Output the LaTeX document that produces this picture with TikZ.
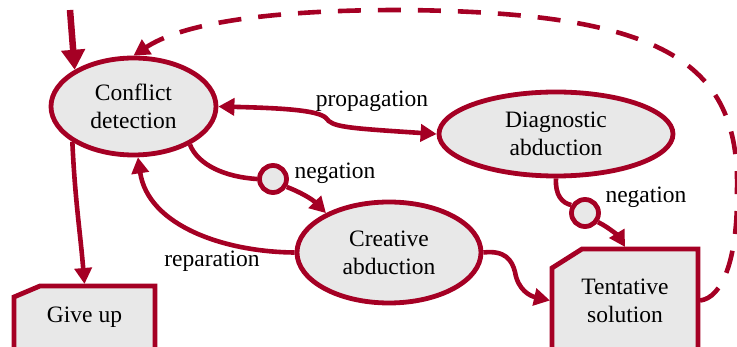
\documentclass[tikz,border=0pt]{standalone}
\usepackage{fontspec}
\setmainfont{Liberation Serif}
\usetikzlibrary{shapes.geometric,arrows.meta}
\definecolor{dred}{RGB}{165,0,36}
\definecolor{nfill}{RGB}{232,232,232}
\newcommand{\dfont}{\fontsize{23.5}{28}\selectfont}
\pgfdeclarelayer{bg}
\pgfsetlayers{bg,main}
\tikzset{
  enode/.style={ellipse, draw=dred, fill=nfill, line width=4.8pt, inner sep=0pt, align=center, font=\dfont},
  bnode/.style={rectangle, inner sep=0pt, outer sep=0pt, align=center, font=\dfont},
  boxline/.style={draw=dred, fill=nfill, line width=4.8pt, line join=miter},
  cnode/.style={circle, draw=dred, fill=nfill, line width=4.8pt, minimum size=27pt, inner sep=0pt},
  conn/.style={draw=dred, line width=4.6pt, -{Triangle[length=16pt,width=17pt]}},
  plainconn/.style={draw=dred, line width=4.6pt},
  dconn/.style={draw=dred, line width=4.6pt, <->, >={Triangle[length=16pt,width=17pt]}},
  lbl/.style={anchor=base, font=\dfont, inner sep=0pt},
  txt/.style={font=\dfont, inner sep=0pt}
}
\begin{document}
\begin{tikzpicture}[x=1pt,y=-1pt]
\useasboundingbox (0,0) rectangle (737,347);
% nodes
\node[enode, minimum width=165pt, minimum height=97pt] (cd) at (133.5,106.5) {Conflict\\detection};
\node[enode, minimum width=234pt, minimum height=84pt] (da) at (556,134) {Diagnostic\\abduction};
\node[enode, minimum width=184pt, minimum height=101pt] (ca) at (389,252.5) {Creative\\abduction};
\node[bnode, minimum width=146pt, minimum height=103pt] (ts) at (625,300.5) {Tentative\\solution};
\node[bnode, minimum width=141pt, minimum height=66pt] (gu) at (84.5,319) {};
\node[txt] (gut) at (84.5,317.5) {Give up};
\begin{pgfonlayer}{bg}
\draw[boxline] (ts.south west) -- ([yshift=-19pt]ts.north west) -- ([xshift=30pt]ts.north west) -- (ts.north east) -- (ts.south east) -- cycle;
\draw[boxline] (gu.south west) -- ([yshift=-11pt]gu.north west) -- ([xshift=26pt]gu.north west) -- (gu.north east) -- (gu.south east) -- cycle;
\end{pgfonlayer}
\node[cnode] (c1) at (273,179) {};
\node[cnode] (c2) at (585,213) {};
% labels
\node[lbl] (lprop) at (372,107) {propagation};
\node[lbl] (lneg1) at (335,179) {negation};
\node[lbl] (lneg2) at (646,203) {negation};
\node[lbl] (lrep) at (212,267) {reparation};
% entry
\coordinate (start) at (70,10);
\draw[draw=dred, line width=6.5pt, -{Triangle[length=20pt,width=23pt]}] (start) -- (cd.148);
% dashed feedback
\draw[conn, dash pattern=on 23pt off 17pt] ([xshift=2pt]ts.east) .. controls (722,298) and (738,260) .. (737,190)
  .. controls (740,60) and (660,12) .. (400,10)
  .. controls (260,10) and (180,25) .. (cd.north);
% propagation
\draw[dconn] (cd.east) .. controls (280,108) and (318,110) .. (326,118)
  .. controls (332,127) and (345,128) .. (da.west);
% negation 1
\draw[plainconn] (cd.-34) .. controls (198,165) and (225,177) .. (c1.west);
\draw[conn] (c1.-30) .. controls (300,192) and (312,199) .. (ca.148);
% reparation
\draw[conn] (ca.west) .. controls (225,252) and (148,226) .. (cd.-85);
% give up
\draw[conn] (cd.-150) .. controls (75,200) and (80,230) .. ([yshift=2pt]gu.north);
% negation 2
\draw[plainconn] (da.south) .. controls (555,195) and (562,203) .. (c2.150);
\draw[conn] (c2.-35) .. controls (610,228) and (619,237) .. ([yshift=2pt]ts.north);
% creative -> tentative
\draw[conn] (ca.east) .. controls (505,250) and (512,260) .. (515,272)
  .. controls (518,290) and (530,296) .. ([xshift=-2pt]ts.west);
\end{tikzpicture}
\end{document}
